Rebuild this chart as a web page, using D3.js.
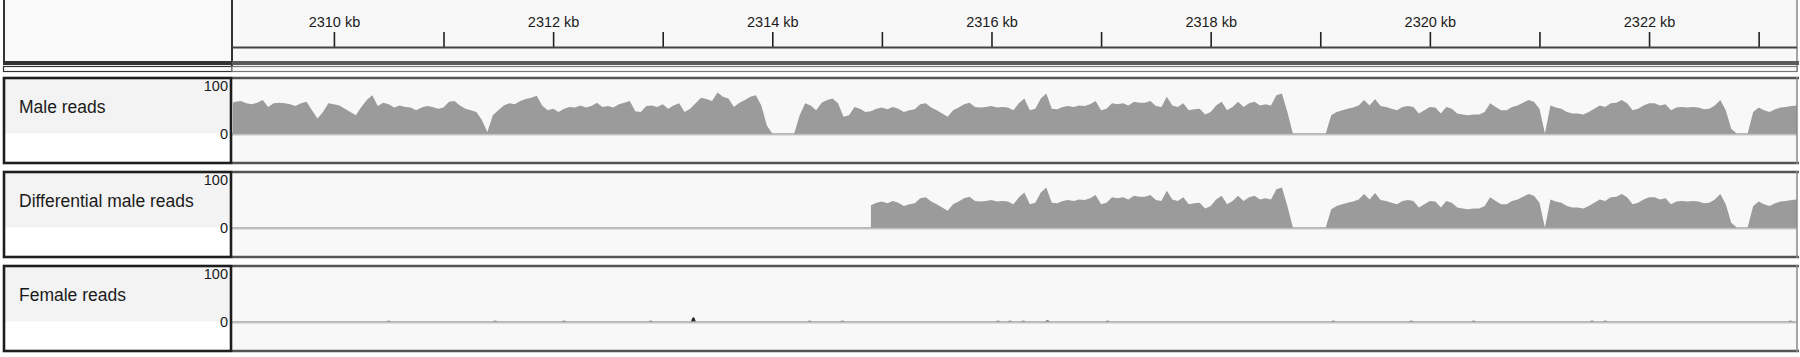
<!DOCTYPE html>
<html>
<head>
<meta charset="utf-8">
<script src="https://cdn.jsdelivr.net/npm/d3@7"></script>
<style>
  html, body { margin: 0; padding: 0; background: #ffffff; }
  svg { display: block; font-family: "Liberation Sans", Arial, sans-serif; }
</style>
</head>
<body>
<svg id="chart" width="1800" height="357"></svg>
<script>
// ---------------- DATA ----------------
const viewKb = [2309.07, 2323.35];              // visible genomic window (kb)
const tickKb = [2310, 2311, 2312, 2313, 2314, 2315, 2316, 2317, 2318, 2319, 2320, 2321, 2322, 2323];
const tickLabels = ["2310 kb", "", "2312 kb", "", "2314 kb", "", "2316 kb", "", "2318 kb", "", "2320 kb", "", "2322 kb", ""];
const trackNames = ["Male reads", "Differential male reads", "Female reads"];
const dataRangeMax = 100;

// male coverage sampled every 0.05 kb starting at 2309.05 kb
const coverageStartKb = 2309.05;
const coverageStepKb = 0.05;
const maleReads = [
  55, 59, 60, 56, 54, 57, 62, 49, 56, 57, 56, 54, 51, 56, 59, 43, 28, 40, 56, 54,
  52, 46, 40, 34, 49, 62, 71, 51, 57, 54, 48, 52, 49, 48, 43, 48, 51, 49, 46, 48,
  59, 60, 52, 46, 43, 40, 25, 3, 34, 43, 52, 56, 54, 60, 64, 66, 70, 52, 43, 46,
  40, 46, 49, 48, 52, 48, 51, 57, 49, 51, 48, 54, 57, 60, 41, 40, 51, 52, 49, 54,
  46, 52, 56, 40, 46, 56, 66, 64, 60, 76, 68, 65, 49, 57, 62, 68, 71, 52, 15, 0,
  0, 0, 0, 0, 34, 56, 52, 43, 57, 62, 65, 56, 31, 34, 49, 46, 40, 41, 46, 48,
  45, 49, 46, 40, 43, 45, 54, 56, 48, 43, 37, 31, 43, 48, 54, 57, 49, 48, 49, 51,
  48, 49, 48, 43, 56, 65, 43, 46, 65, 74, 46, 45, 49, 51, 49, 52, 51, 54, 60, 43,
  46, 56, 54, 56, 52, 59, 57, 57, 60, 51, 49, 68, 52, 49, 56, 43, 45, 46, 35, 40,
  52, 59, 43, 49, 59, 49, 56, 59, 52, 54, 52, 71, 74, 40, 0, 0, 0, 0, 0, 0,
  0, 34, 40, 43, 46, 48, 52, 62, 52, 64, 51, 49, 46, 43, 49, 51, 49, 37, 43, 49,
  48, 37, 49, 46, 37, 35, 34, 35, 35, 40, 56, 49, 43, 43, 49, 52, 57, 62, 59, 46,
  0, 52, 48, 46, 40, 37, 37, 35, 40, 46, 52, 49, 56, 57, 62, 56, 43, 46, 52, 56,
  56, 52, 54, 43, 48, 49, 48, 49, 48, 45, 46, 52, 62, 43, 9, 0, 0, 0, 40, 48,
  43, 40, 45, 48, 49, 51, 52
];
const differentialStartKb = 2314.90;            // differential signal begins here

// female reads: sparse tiny pile-ups
const femaleKb   = [2310.50, 2311.47, 2312.10, 2312.89, 2313.28, 2314.34, 2314.64, 2316.06, 2316.17, 2316.29,
                    2316.51, 2317.06, 2319.12, 2319.83, 2320.40, 2321.48, 2321.60, 2323.29];
const femaleVals = [2, 2, 2, 2, 8, 2, 2, 2, 2, 2,
                    3, 2, 2, 2, 2, 2, 2, 2];

// ---------------- LAYOUT ----------------
const nameL = 3, nameR = 232, dataR = 1797;
const trackTops = [77, 171, 265];
const trackH = 87;
const baseOff = 56.5;       // baseline offset from track top
const dataH = 54;           // pixels for 0..100

const svg = d3.select("#chart");

const x = d3.scaleLinear().domain(viewKb).range([nameR, dataR]);

// ---------- Header ----------
svg.append("rect").attr("x", nameL).attr("y", 0).attr("width", nameR - nameL).attr("height", 62).attr("fill", "#f9f9f9");
svg.append("rect").attr("x", nameR).attr("y", 0).attr("width", dataR - nameR).attr("height", 62).attr("fill", "#f8f8f8");
svg.append("line").attr("x1", nameL + 1).attr("x2", nameL + 1).attr("y1", 0).attr("y2", 62).attr("stroke", "#333").attr("stroke-width", 2);
svg.append("line").attr("x1", nameR).attr("x2", nameR).attr("y1", 0).attr("y2", 72).attr("stroke", "#333").attr("stroke-width", 2);
svg.append("line").attr("x1", dataR).attr("x2", dataR).attr("y1", 0).attr("y2", 72).attr("stroke", "#888").attr("stroke-width", 1.5);

const axis = d3.axisTop(x)
  .tickValues(tickKb)
  .tickFormat((d, i) => tickLabels[i])
  .tickSize(15)
  .tickPadding(5);

const axG = svg.append("g").attr("transform", "translate(0,47)").call(axis);
axG.select(".domain").remove();
axG.selectAll(".tick line").attr("stroke", "#222").attr("stroke-width", 1.6);
axG.selectAll(".tick text").attr("fill", "#1a1a1a").style("font-size", "14.5px")
  .style("font-family", "'Liberation Sans', Arial, sans-serif");
svg.append("line").attr("x1", nameR).attr("x2", dataR).attr("y1", 47.5).attr("y2", 47.5).attr("stroke", "#444").attr("stroke-width", 2);

// thick bar and thin box under header
svg.append("rect").attr("x", nameL).attr("y", 61).attr("width", nameR - nameL).attr("height", 4).attr("fill", "#333");
svg.append("rect").attr("x", nameR).attr("y", 61).attr("width", dataR - nameR + 2).attr("height", 4).attr("fill", "#5a5a5a");
svg.append("rect").attr("x", nameL + 0.5).attr("y", 66.5).attr("width", nameR - nameL - 0.5).attr("height", 5).attr("fill", "#fff").attr("stroke", "#333").attr("stroke-width", 1.2);
svg.append("rect").attr("x", nameR).attr("y", 66.5).attr("width", dataR - nameR).attr("height", 5).attr("fill", "#fafafa").attr("stroke", "#777").attr("stroke-width", 1.2);

// ---------- Series ----------
const malePts = maleReads.map((v, i) => ({ kb: coverageStartKb + i * coverageStepKb, v }));
// differential track: same signal as male, only from differentialStartKb on (sharp rise at the start)
const diffPts = [{ kb: differentialStartKb, v: 0 }]
  .concat(malePts.filter(p => p.kb >= differentialStartKb - 1e-9));
const femalePts = femaleKb.map((kb, i) => ({ kb, v: femaleVals[i] }));

function drawTrack(ti, name) {
  const top = trackTops[ti];
  const base = top + baseOff;
  const y = d3.scaleLinear().domain([0, dataRangeMax]).range([base, base - dataH]);
  const g = svg.append("g");

  // name panel
  g.append("rect").attr("x", nameL).attr("y", top).attr("width", nameR - nameL).attr("height", base - top).attr("fill", "#f3f3f3");
  g.append("rect").attr("x", nameL).attr("y", base).attr("width", nameR - nameL).attr("height", top + trackH - base).attr("fill", "#ffffff");
  // data panel
  g.append("rect").attr("x", nameR).attr("y", top).attr("width", dataR - nameR).attr("height", trackH).attr("fill", "#f8f8f8");

  const clipId = "clip" + ti;
  svg.append("clipPath").attr("id", clipId).append("rect")
    .attr("x", nameR + 1).attr("y", top).attr("width", dataR - nameR - 1).attr("height", trackH);

  const dg = g.append("g").attr("clip-path", `url(#${clipId})`);

  if (ti < 2) {
    const pts = ti === 0 ? malePts : diffPts;
    const area = d3.area()
      .x(d => x(d.kb))
      .y0(y(0))
      .y1(d => y(d.v))
      .curve(d3.curveLinear);
    dg.append("path").datum(pts).attr("d", area).attr("fill", "#9b9b9b");
  } else {
    // small pile-ups drawn as tiny peaks
    const halfW = 0.022;
    dg.selectAll("path.f").data(femalePts).enter().append("path")
      .attr("d", d => d3.area().x(p => x(p[0])).y0(y(0)).y1(p => y(p[1]))([
        [d.kb - halfW, 0], [d.kb - halfW * 0.5, d.v * 0.8], [d.kb, d.v], [d.kb + halfW * 0.5, d.v * 0.8], [d.kb + halfW, 0]
      ]))
      .attr("fill", d => d.v > 4 ? "#2a2a2a" : "#8a8a8a");
  }

  // baseline
  g.append("line").attr("x1", nameR).attr("x2", dataR).attr("y1", base + 0.5).attr("y2", base + 0.5).attr("stroke", "#777").attr("stroke-width", 1.2);
  g.append("line").attr("x1", nameR).attr("x2", dataR).attr("y1", base + 1.6).attr("y2", base + 1.6).attr("stroke", "#cfcfcf").attr("stroke-width", 1);

  // data panel borders
  g.append("line").attr("x1", nameR).attr("x2", dataR + 2).attr("y1", top + 1).attr("y2", top + 1).attr("stroke", "#555").attr("stroke-width", 2.5);
  g.append("line").attr("x1", nameR).attr("x2", dataR + 2).attr("y1", top + trackH - 1).attr("y2", top + trackH - 1).attr("stroke", "#555").attr("stroke-width", 2.5);
  g.append("line").attr("x1", dataR).attr("x2", dataR).attr("y1", top).attr("y2", top + trackH).attr("stroke", "#888").attr("stroke-width", 1.5);

  // name panel border
  g.append("rect").attr("x", nameL + 1).attr("y", top + 1).attr("width", nameR - nameL - 2).attr("height", trackH - 2)
    .attr("fill", "none").attr("stroke", "#1e1e1e").attr("stroke-width", 2.6);

  // labels
  g.append("text").attr("x", 19).attr("y", top + 30).attr("dy", "0.35em")
    .attr("fill", "#1a1a1a").style("font-size", "17.5px").text(name);
  g.append("text").attr("x", 228).attr("y", top + 9).attr("dy", "0.35em").attr("text-anchor", "end")
    .attr("fill", "#1a1a1a").style("font-size", "14.5px").text(String(dataRangeMax));
  g.append("text").attr("x", 228).attr("y", base + 0.5).attr("dy", "0.35em").attr("text-anchor", "end")
    .attr("fill", "#1a1a1a").style("font-size", "14.5px").text("0");
}

trackNames.forEach((n, i) => drawTrack(i, n));
</script>
</body>
</html>
